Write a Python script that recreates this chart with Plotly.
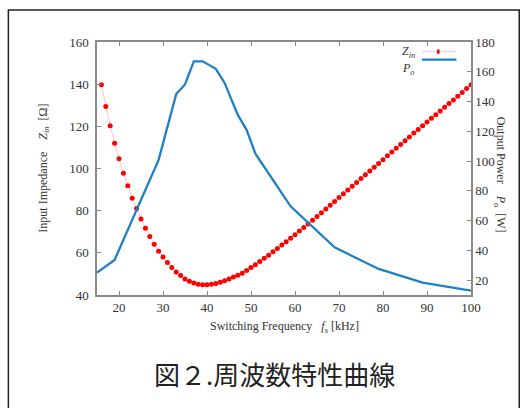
import plotly.graph_objects as go

# ---- data ----
freq_z = list(range(16, 101))
z_in = [139.7, 129.4, 120.3, 112.0, 104.6, 97.8, 91.8, 85.9, 81.0, 76.1,
        71.7, 67.7, 64.1, 60.8, 58.0, 55.4, 53.0, 50.9, 49.2, 47.6,
        46.5, 45.7, 45.1, 44.9, 44.9, 45.1, 45.5, 46.1, 46.8, 47.6,
        48.5, 49.4, 50.3, 51.6, 53.0, 54.4, 55.9, 57.4, 58.9, 60.5,
        62.1, 63.7, 65.3, 66.9, 68.6, 70.3, 72.0, 73.7, 75.4, 77.2,
        79.0, 80.8, 82.6, 84.4, 86.2, 88.0, 89.8, 91.6, 93.4, 95.2,
        97.0, 98.8, 100.6, 102.4, 104.2, 106.0, 107.8, 109.6, 111.4, 113.2,
        115.0, 116.8, 118.5, 120.3, 122.0, 123.8, 125.5, 127.3, 129.0, 130.8,
        132.5, 134.3, 136.0, 137.9, 139.7]

freq_p = [15, 19, 29, 31, 33, 35, 37, 39, 41, 42, 44, 47, 49, 51, 59, 69, 79, 89, 100]
p_out = [25.0, 33.6, 100.8, 123.0, 145.0, 151.5, 167.0, 167.0, 164.0, 162.0,
         152.5, 131.0, 121.0, 105.0, 69.6, 42.0, 27.5, 18.3, 12.9]

x_ticks = [20, 30, 40, 50, 60, 70, 80, 90, 100]
y_ticks = [40, 60, 80, 100, 120, 140, 160]
y2_ticks = [20, 40, 60, 80, 100, 120, 140, 160, 180]

RED = "#ff0000"
BLUE = "#1f80c4"
AX = "#8a8a8a"
SERIF = "Liberation Serif, Times New Roman, serif"

fig = go.Figure()
fig.add_trace(go.Scatter(
    x=freq_z, y=z_in, mode="lines+markers", name="Z_in",
    line=dict(color="rgba(255,90,90,0.45)", width=0.8),
    marker=dict(color=RED, size=5), yaxis="y"))
fig.add_trace(go.Scatter(
    x=freq_p, y=p_out, mode="lines", name="P_o",
    line=dict(color=BLUE, width=2.3), yaxis="y2"))

tickfont = dict(family=SERIF, size=13, color="#333333")
fig.update_layout(
    width=526, height=408,
    margin=dict(l=97, r=55, t=42, b=113),
    paper_bgcolor="white", plot_bgcolor="white",
    showlegend=False,
    xaxis=dict(range=[15, 100], tickvals=x_ticks, ticks="inside", ticklen=4,
               tickcolor=AX, showline=True, linecolor=AX, linewidth=1.5,
               mirror="ticks", showgrid=False, zeroline=False, tickfont=tickfont),
    yaxis=dict(range=[40, 160], tickvals=y_ticks, ticks="inside", ticklen=4,
               tickcolor=AX, showline=True, linecolor=AX, linewidth=1.5,
               showgrid=False, zeroline=False, tickfont=tickfont, ticklabelstandoff=4),
    yaxis2=dict(range=[10, 180], tickvals=y2_ticks, ticks="inside", ticklen=4,
                tickcolor=AX, showline=True, linecolor=AX, linewidth=1.5,
                overlaying="y", side="right", showgrid=False, zeroline=False,
                tickfont=tickfont),
)

def ann(text, x, y, size=12, angle=0, xanchor="center", color="#333333", family=SERIF):
    fig.add_annotation(text=text, x=x, y=y, xref="paper", yref="paper",
                       showarrow=False, textangle=angle, xanchor=xanchor,
                       yanchor="middle", font=dict(family=family, size=size, color=color))

# axis titles
ann("Input Impedance&nbsp;&nbsp;&nbsp;&nbsp;<i>Z</i><sub><i>in</i></sub>&nbsp;&nbsp;[Ω]",
    -0.144, 0.50, angle=-90)
ann("Output Power&nbsp;&nbsp;&nbsp;&nbsp;<i>P</i><sub><i>o</i></sub>&nbsp;&nbsp;[W]",
    1.078, 0.475, angle=90)
ann("Switching Frequency&nbsp;&nbsp;&nbsp;<i>f</i><sub><i>s</i></sub> [kHz]",
    0.5, -0.127)
ann("図２.周波数特性曲線", 0.474, -0.31, size=26, color="#222222",
    family="Noto Sans CJK JP")

# legend (gnuplot style: label left of sample)
ann("<i>Z</i><sub><i>in</i></sub>", 0.855, 0.960, size=12, xanchor="right")
ann("<i>P</i><sub><i>o</i></sub>", 0.855, 0.893, size=12, xanchor="right")
fig.add_shape(type="line", xref="paper", yref="paper", x0=0.869, x1=0.961,
              y0=0.962, y1=0.962, line=dict(color="rgba(255,90,90,0.45)", width=0.8))
fig.add_shape(type="circle", xref="paper", yref="paper",
              x0=0.9085, x1=0.9165, y0=0.952, y1=0.972,
              fillcolor=RED, line=dict(color=RED, width=0))
fig.add_shape(type="line", xref="paper", yref="paper", x0=0.869, x1=0.961,
              y0=0.930, y1=0.930, line=dict(color=BLUE, width=2.3))

# outer frame
fig.add_shape(type="rect", xref="paper", yref="paper",
              x0=-0.237, x1=1.129, y0=-0.52, y1=1.126,
              line=dict(color="#222222", width=1.5), fillcolor="rgba(0,0,0,0)", layer="below")

fig.write_html("out.html",
               config={"displayModeBar": False},
               post_script="document.body.style.margin='0px';document.body.style.overflow='hidden';")
